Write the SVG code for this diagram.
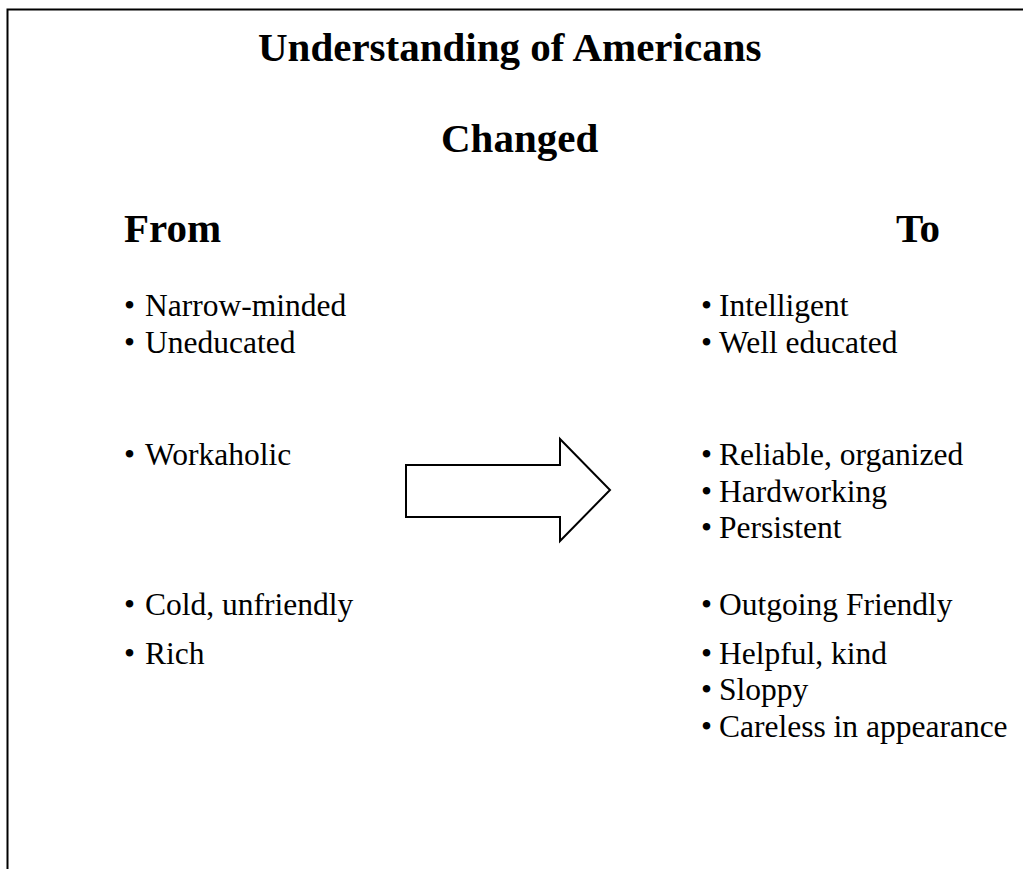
<svg xmlns="http://www.w3.org/2000/svg" width="1023" height="869" viewBox="0 0 1023 869">
  <style>
    .t { font-family: "Liberation Serif", "Times New Roman", serif; fill: #000; }
    .h { font-size: 41px; font-weight: bold; }
    .b { font-size: 31.5px; }
    .frame { fill: none; stroke: #000; stroke-width: 2; }
    .arrow { fill: #fff; stroke: #000; stroke-width: 2; stroke-linejoin: miter; }
  </style>
  <rect width="1023" height="869" fill="#fff"/>
  <path class="frame" d="M7.5,869 V9.5 H1023"/>

  <g id="title">
    <text class="t h" x="258" y="61">Understanding of Americans</text>
  </g>
  <g id="subtitle">
    <text class="t h" x="441" y="152">Changed</text>
  </g>
  <g id="from-heading">
    <text class="t h" x="124" y="242">From</text>
  </g>
  <g id="to-heading">
    <text class="t h" x="896" y="242">To</text>
  </g>

  <g id="from-list" class="t b">
    <text x="124" y="316">•</text><text x="145" y="316">Narrow-minded</text>
    <text x="124" y="353">•</text><text x="145" y="353">Uneducated</text>
    <text x="124" y="465">•</text><text x="145" y="465">Workaholic</text>
    <text x="124" y="615">•</text><text x="145" y="615">Cold, unfriendly</text>
    <text x="124" y="664">•</text><text x="145" y="664">Rich</text>
  </g>

  <g id="to-list" class="t b">
    <text x="701" y="316">•</text><text x="719" y="316">Intelligent</text>
    <text x="701" y="353">•</text><text x="719" y="353">Well educated</text>
    <text x="701" y="465">•</text><text x="719" y="465">Reliable, organized</text>
    <text x="701" y="502">•</text><text x="719" y="502">Hardworking</text>
    <text x="701" y="538">•</text><text x="719" y="538">Persistent</text>
    <text x="701" y="615">•</text><text x="719" y="615">Outgoing Friendly</text>
    <text x="701" y="664">•</text><text x="719" y="664">Helpful, kind</text>
    <text x="701" y="700">•</text><text x="719" y="700">Sloppy</text>
    <text x="701" y="737">•</text><text x="719" y="737">Careless in appearance</text>
  </g>

  <g id="connectors">
    <polygon id="arrow" class="arrow" points="406,465 560,465 560,439 610,490 560,541 560,517 406,517"/>
  </g>
</svg>
